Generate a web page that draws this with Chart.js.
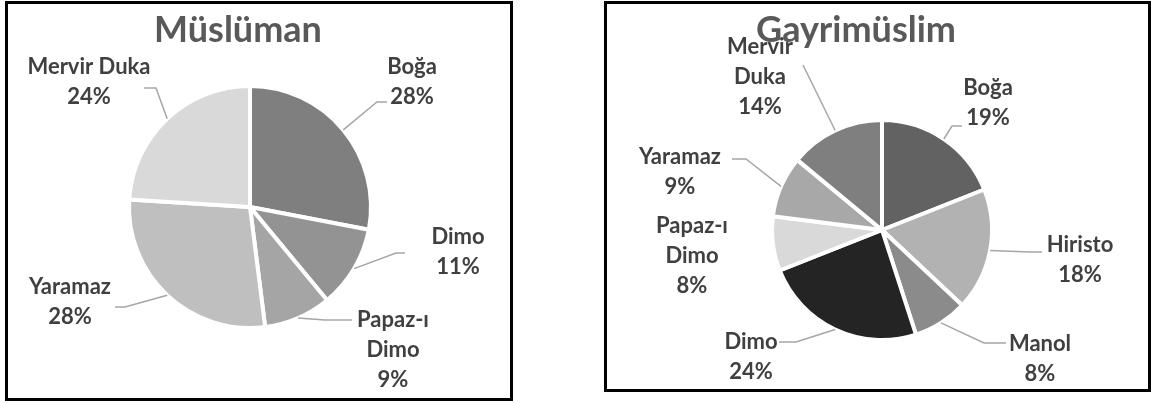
<!DOCTYPE html>
<html><head><meta charset="utf-8">
<script src="https://cdn.jsdelivr.net/npm/chart.js@4.4.0/dist/chart.umd.min.js"></script>
<style>
html,body{margin:0;padding:0;background:#fff;width:1151px;height:403px;overflow:hidden}
.box{position:absolute;border:3px solid #000;box-sizing:border-box}
canvas{position:absolute;left:0;top:0}
</style></head><body>
<div class="box" style="left:5px;top:1px;width:508px;height:400px"></div>
<div class="box" style="left:604px;top:1px;width:547px;height:391px"></div>
<canvas id="c1" width="1151" height="403"></canvas>
<canvas id="c2" width="1151" height="403"></canvas>
<script>
// ---- data ----
const titleLeft = 'Müslüman';
const categoriesLeft = ['Boğa', 'Dimo', 'Papaz-ı Dimo', 'Yaramaz', 'Mervir Duka'];
const valuesLeft = [28, 11, 9, 28, 24];

const titleRight = 'Gayrimüslim';
const categoriesRight = ['Boğa', 'Hiristo', 'Manol', 'Dimo', 'Papaz-ı Dimo', 'Yaramaz', 'Mervir Duka'];
const valuesRight = [19, 18, 8, 24, 8, 9, 14];

// ---- styles ----
const colorsLeft = ['#7f7f7f', '#939393', '#a5a5a5', '#bfbfbf', '#d9d9d9'];
const colorsRight = ['#626262', '#b2b2b2', '#8b8b8b', '#242424', '#d9d9d9', '#a8a8a8', '#7f7f7f'];

// label block placement relative to pie centre (px), line wrap, leader path
const layoutLeft = [
  {dx: 162, dy: -125, wrap: false, leader: [[127, -105], [137, -105]]},
  {dx: 208, dy: 45, wrap: false, leader: [[146, 46], [155, 46]]},
  {dx: 143, dy: 143, wrap: true, leader: [[75, 113], [102, 113]]},
  {dx: -180, dy: 95, wrap: false, leader: [[-125, 100], [-135, 100]]},
  {dx: -161, dy: -125, wrap: false, leader: [[-94, -119], [-106, -119]]}
];
const layoutRight = [
  {dx: 106, dy: -127, wrap: false, leader: [[70, -104], [80, -104]]},
  {dx: 198, dy: 30, wrap: false, leader: [[148, 22], [160, 22]]},
  {dx: 158, dy: 129, wrap: false, leader: [[102, 113], [124, 113]]},
  {dx: -131, dy: 127, wrap: false, leader: [[-86, 112], [-103, 112]]},
  {dx: -190, dy: 26, wrap: true, leader: null},
  {dx: -202, dy: -58, wrap: false, leader: [[-136, -71], [-150, -71]]},
  {dx: -122, dy: -153, wrap: true, leader: [[-79, -165]]}
];

const FONT_FAMILY = 'Lato, "Open Sans", sans-serif';

const pieLabels = {
  id: 'pieLabels',
  afterDatasetsDraw(chart, args, opts) {
    const ctx = chart.ctx;
    ctx.save();
    // title
    ctx.font = 'bold ' + opts.titleSize + 'px ' + FONT_FAMILY;
    ctx.fillStyle = opts.titleColor;
    ctx.textAlign = 'center';
    ctx.textBaseline = 'alphabetic';
    ctx.fillText(opts.title, opts.titleX, opts.titleY);

    const meta = chart.getDatasetMeta(0);
    const data = chart.data.datasets[0].data;
    const total = data.reduce((a, b) => a + b, 0);
    meta.data.forEach((arc, i) => {
      const p = arc.getProps(['x', 'y', 'startAngle', 'endAngle', 'outerRadius'], true);
      const mid = (p.startAngle + p.endAngle) / 2;
      const L = opts.layout[i];
      if (L.leader) {
        ctx.beginPath();
        ctx.moveTo(p.x + Math.cos(mid) * p.outerRadius, p.y + Math.sin(mid) * p.outerRadius);
        L.leader.forEach(pt => ctx.lineTo(p.x + pt[0], p.y + pt[1]));
        ctx.strokeStyle = opts.leaderColor;
        ctx.lineWidth = 1.5;
        ctx.stroke();
      }
      const name = chart.data.labels[i];
      const lines = (L.wrap ? name.split(' ') : [name]).concat([Math.round(data[i] / total * 100) + '%']);
      ctx.font = 'bold ' + opts.fontSize + 'px ' + FONT_FAMILY;
      ctx.fillStyle = opts.color;
      ctx.textAlign = 'center';
      ctx.textBaseline = 'middle';
      const n = lines.length;
      lines.forEach((t, k) => ctx.fillText(t, p.x + L.dx, p.y + L.dy + (k - (n - 1) / 2) * opts.lineHeight));
    });
    ctx.restore();
  }
};

function makePie(id, labels, values, colors, radius, padding, layout, title, titleX, titleY) {
  return new Chart(document.getElementById(id), {
    type: 'pie',
    data: {
      labels: labels,
      datasets: [{
        data: values,
        backgroundColor: colors,
        borderColor: '#ffffff',
        borderWidth: 4,
        radius: radius
      }]
    },
    options: {
      responsive: false,
      animation: false,
      events: [],
      layout: {padding: padding},
      plugins: {
        legend: {display: false},
        tooltip: {enabled: false},
        title: {display: false},
        pieLabels: {
          layout: layout,
          title: title, titleX: titleX, titleY: titleY,
          titleSize: 36, titleColor: '#595959',
          fontSize: 22, lineHeight: 30, color: '#404040',
          leaderColor: '#a6a6a6'
        }
      }
    },
    plugins: [pieLabels]
  });
}

makePie('c1', categoriesLeft, valuesLeft, colorsLeft, 121,
  {left: 0, right: 651, top: 11, bottom: 0}, layoutLeft, titleLeft, 238, 42);
makePie('c2', categoriesRight, valuesRight, colorsRight, 110,
  {left: 613, right: 0, top: 57, bottom: 0}, layoutRight, titleRight, 856, 42);
</script>
</body></html>
